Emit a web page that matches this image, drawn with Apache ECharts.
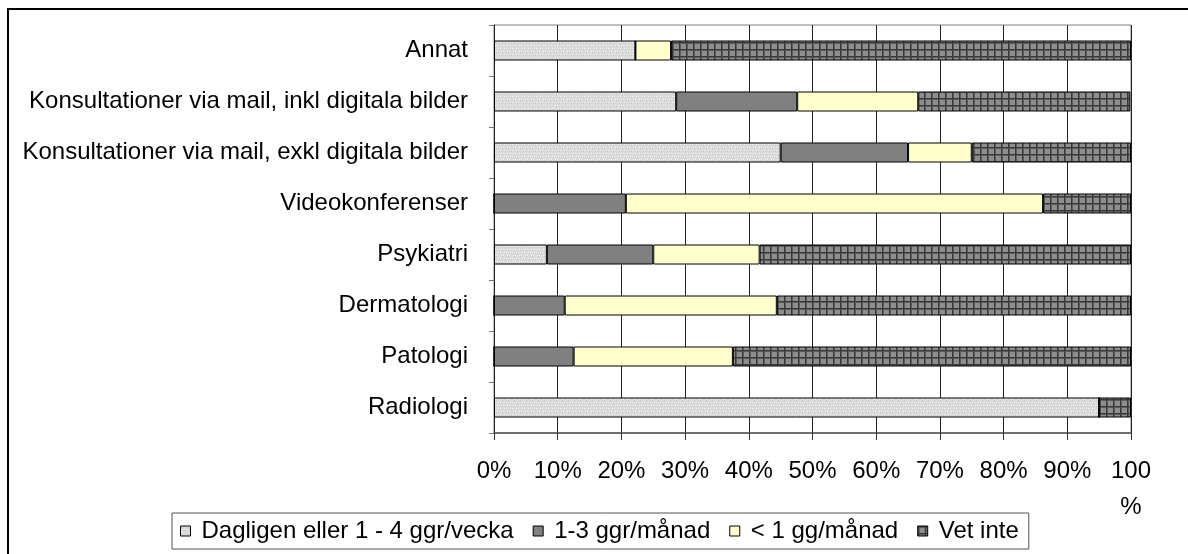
<!DOCTYPE html>
<html>
<head>
<meta charset="utf-8">
<script src="https://cdn.jsdelivr.net/npm/echarts@6/dist/echarts.min.js"></script>
<style>
  html, body { margin: 0; padding: 0; background: #fff; }
  #chart { width: 1188px; height: 554px; }
</style>
</head>
<body>
<div id="chart"></div>
<script>
// kategorier uppifrån och ned
var categories = [
    "Annat",
    "Konsultationer via mail, inkl digitala bilder",
    "Konsultationer via mail, exkl digitala bilder",
    "Videokonferenser",
    "Psykiatri",
    "Dermatologi",
    "Patologi",
    "Radiologi"
];
var seriesNames = ["Dagligen eller 1 - 4 ggr/vecka", "1-3 ggr/månad", "< 1 gg/månad", "Vet inte"];
var dagligen = [22.2, 28.6, 45.0, 0, 8.3, 0, 0, 95.0];
var perManad = [0, 19.0, 20.0, 20.7, 16.7, 11.1, 12.5, 0];
var mindreAn1 = [5.6, 19.0, 10.0, 65.5, 16.7, 33.3, 25.0, 0];
var vetInte = [72.2, 33.3, 25.0, 13.8, 58.3, 55.6, 62.5, 5.0];
var xTicks = [0, 10, 20, 30, 40, 50, 60, 70, 80, 90, 100];

var FONT = "'Liberation Sans', Arial, sans-serif";

// mönster som i Excel
function makeDots() {
    var c = document.createElement("canvas");
    c.width = 6; c.height = 6;
    var g = c.getContext("2d");
    g.fillStyle = "#dadada";
    g.fillRect(0, 0, 6, 6);
    g.fillStyle = "#f4f4f4";
    g.fillRect(0, 0, 1, 1); g.fillRect(3, 3, 1, 1);
    g.fillRect(2, 0, 1, 1); g.fillRect(5, 3, 1, 1);
    g.fillStyle = "#c4c4c4";
    g.fillRect(1, 1, 1, 1); g.fillRect(4, 4, 1, 1);
    return c;
}
function makeGrid() {
    var c = document.createElement("canvas");
    c.width = 7; c.height = 7;
    var g = c.getContext("2d");
    g.fillStyle = "#8e8e8e";
    g.fillRect(0, 0, 7, 7);
    g.fillStyle = "#5c5c5c";
    g.fillRect(0, 1, 7, 1);
    g.fillRect(1, 0, 1, 7);
    g.fillStyle = "#3a3a3a";
    g.fillRect(0, 0, 7, 1);
    g.fillRect(0, 0, 1, 7);
    return c;
}

var colors = [
    { image: makeDots(), repeat: "repeat" },
    "#808080",
    "#ffffcc",
    { image: makeGrid(), repeat: "repeat" }
];
var values = [dagligen, perManad, mindreAn1, vetInte];

var chart = echarts.init(document.getElementById("chart"));

var series = [];
for (var i = 0; i < seriesNames.length; i++) {
    series.push({
        name: seriesNames[i],
        type: "bar",
        stack: "total",
        barWidth: 20,
        itemStyle: {
            color: colors[i],
            borderColor: "#000",
            borderWidth: 1
        },
        emphasis: { disabled: true },
        data: values[i]
    });
}

var option = {
    backgroundColor: "#fff",
    animation: false,
    textStyle: { fontFamily: FONT },
    graphic: [
        {
            type: "rect",
            shape: { x: 8, y: 9, width: 1200, height: 600 },
            style: { fill: "none", stroke: "#000", lineWidth: 2 },
            silent: true,
            z: -1
        }
    ],
    grid: {
        left: 494,
        right: 57,
        top: 25,
        bottom: 121,
        show: true,
        borderColor: "#808080",
        borderWidth: 1
    },
    legend: {
        left: 172,
        top: 513,
        itemWidth: 10,
        itemHeight: 10,
        itemGap: 19,
        padding: [6, 10, 6, 8],
        borderColor: "#555",
        borderWidth: 1,
        icon: "rect",
        itemStyle: { borderColor: "#000", borderWidth: 1 },
        textStyle: { fontFamily: FONT, fontSize: 24, color: "#000", padding: [0, 0, 0, 6] },
        data: seriesNames
    },
    xAxis: {
        type: "value",
        min: 0,
        max: 100,
        interval: 10,
        axisLine: { show: true, lineStyle: { color: "#555", width: 1.5 } },
        axisTick: { show: true, length: 7, lineStyle: { color: "#333" } },
        splitLine: { show: true, lineStyle: { color: "#222", width: 1 } },
        axisLabel: {
            margin: 20,
            fontSize: 24,
            lineHeight: 36,
            color: "#000",
            fontFamily: FONT,
            formatter: function (v) {
                return xTicks.indexOf(v) < 0 ? "" : (v === 100 ? "100\n%" : v + "%");
            }
        }
    },
    yAxis: {
        type: "category",
        inverse: true,
        data: categories,
        axisLine: { show: true, lineStyle: { color: "#222", width: 1 } },
        axisTick: { show: true, length: 5, lineStyle: { color: "#777" } },
        splitLine: { show: false },
        axisLabel: {
            margin: 26,
            fontSize: 24,
            color: "#000",
            fontFamily: FONT
        }
    },
    series: series
};

chart.setOption(option);
</script>
</body>
</html>
